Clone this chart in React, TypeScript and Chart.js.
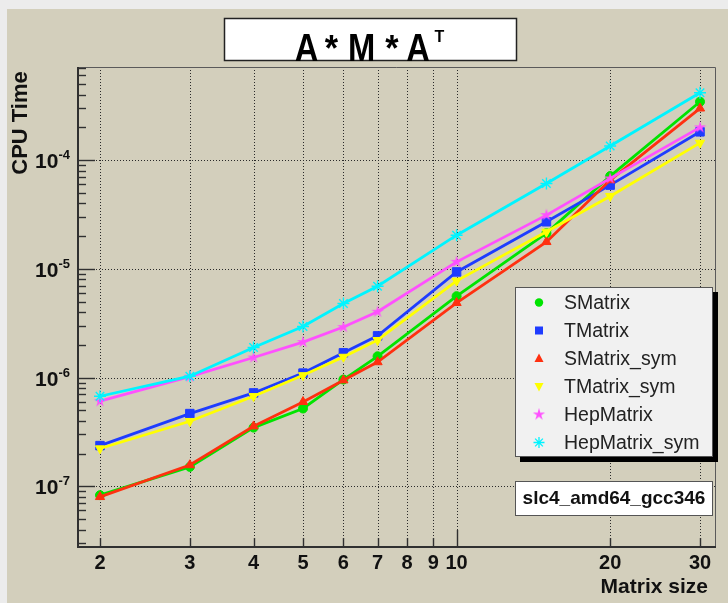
import React, { useEffect, useRef } from 'react';
import { Chart, registerables } from 'chart.js';

Chart.register(...registerables);

const MATRIX_SIZES = [2, 3, 4, 5, 6, 7, 10, 15, 20, 30];
const SMATRIX = [8.3e-8, 1.51e-7, 3.47e-7, 5.2e-7, 9.6e-7, 1.57e-6, 5.61e-6, 2.13e-5, 7.13e-5, 3.44e-4];
const TMATRIX = [2.37e-7, 4.67e-7, 7.23e-7, 1.1e-6, 1.69e-6, 2.42e-6, 9.37e-6, 2.71e-5, 5.89e-5, 1.82e-4];
const SMATRIX_SYM = [8.0e-8, 1.57e-7, 3.57e-7, 5.98e-7, 9.46e-7, 1.39e-6, 4.87e-6, 1.77e-5, 6.55e-5, 2.99e-4];
const TMATRIX_SYM = [2.23e-7, 3.97e-7, 6.74e-7, 1.05e-6, 1.55e-6, 2.21e-6, 7.76e-6, 2.19e-5, 4.66e-5, 1.44e-4];
const HEPMATRIX = [6.07e-7, 1.02e-6, 1.53e-6, 2.12e-6, 2.92e-6, 4.03e-6, 1.16e-5, 3.12e-5, 6.79e-5, 2.0e-4];
const HEPMATRIX_SYM = [6.74e-7, 1.03e-6, 1.89e-6, 2.95e-6, 4.81e-6, 6.93e-6, 2.04e-5, 6.1e-5, 1.35e-4, 4.16e-4];

const SERIES_NAMES = ['SMatrix', 'TMatrix', 'SMatrix_sym', 'TMatrix_sym', 'HepMatrix', 'HepMatrix_sym'];
const SERIES_VALUES = [SMATRIX, TMATRIX, SMATRIX_SYM, TMATRIX_SYM, HEPMATRIX, HEPMATRIX_SYM];
const SERIES_COLORS = ['#00e400', '#1e3cff', '#ff3010', '#ffff00', '#ff50ff', '#00f4ff'];
const SERIES_MARKERS = ['circle', 'rect', 'triangle', 'invtriangle', 'fstar', 'asterisk'];

const X_TICKS = [2, 3, 4, 5, 6, 7, 8, 9, 10, 20, 30];
const X_TICK_LABELS = ['2', '3', '4', '5', '6', '7', '8', '9', '10', '20', '30'];
const Y_DECADE_EXPONENTS = [-7, -6, -5, -4];

const TITLE = 'A * M * A';
const X_TITLE = 'Matrix size';
const Y_TITLE = 'CPU Time';
const INFO_TEXT = 'slc4_amd64_gcc346';

const FONT = '"Liberation Sans", Arial, Helvetica, sans-serif';

function makeStarCanvas(color: string) {
  const c = document.createElement('canvas');
  c.width = 14;
  c.height = 14;
  const g = c.getContext('2d')!;
  g.fillStyle = color;
  g.beginPath();
  for (let i = 0; i < 10; i++) {
    const r = i % 2 === 0 ? 6.5 : 2.3;
    const a = -Math.PI / 2 + (i * Math.PI) / 5;
    const px = 7 + r * Math.cos(a);
    const py = 7 + r * Math.sin(a);
    if (i === 0) g.moveTo(px, py);
    else g.lineTo(px, py);
  }
  g.closePath();
  g.fill();
  return c;
}

function drawMarker(ctx: CanvasRenderingContext2D, kind: string, x: number, y: number, color: string, star: HTMLCanvasElement) {
  ctx.save();
  ctx.fillStyle = color;
  ctx.strokeStyle = color;
  ctx.beginPath();
  if (kind === 'circle') {
    ctx.arc(x, y, 4.2, 0, Math.PI * 2);
    ctx.fill();
  } else if (kind === 'rect') {
    ctx.fillRect(x - 4, y - 4, 8, 8);
  } else if (kind === 'triangle') {
    ctx.moveTo(x, y - 5);
    ctx.lineTo(x + 4.5, y + 3.5);
    ctx.lineTo(x - 4.5, y + 3.5);
    ctx.closePath();
    ctx.fill();
  } else if (kind === 'invtriangle') {
    ctx.moveTo(x, y + 5);
    ctx.lineTo(x + 4.5, y - 3.5);
    ctx.lineTo(x - 4.5, y - 3.5);
    ctx.closePath();
    ctx.fill();
  } else if (kind === 'fstar') {
    ctx.drawImage(star, x - 7, y - 7);
  } else {
    ctx.lineWidth = 1.3;
    const r = 5.5;
    for (let i = 0; i < 4; i++) {
      const a = (i * Math.PI) / 4;
      ctx.moveTo(x - r * Math.cos(a), y - r * Math.sin(a));
      ctx.lineTo(x + r * Math.cos(a), y + r * Math.sin(a));
    }
    ctx.stroke();
  }
  ctx.restore();
}

export default function App() {
  const ref = useRef<HTMLCanvasElement | null>(null);

  useEffect(() => {
    const canvas = ref.current;
    if (!canvas) return;
    const star = makeStarCanvas(SERIES_COLORS[4]);

    const pointStyleFor = (kind: string): any => {
      if (kind === 'circle') return 'circle';
      if (kind === 'rect') return 'rect';
      if (kind === 'triangle') return 'triangle';
      if (kind === 'invtriangle') return 'triangle';
      if (kind === 'fstar') return star;
      return 'star';
    };

    const datasets = SERIES_NAMES.map((name, i) => ({
      label: name,
      data: MATRIX_SIZES.map((x, j) => ({ x, y: SERIES_VALUES[i][j] })),
      borderColor: SERIES_COLORS[i],
      backgroundColor: SERIES_COLORS[i],
      borderWidth: 2.8,
      pointStyle: pointStyleFor(SERIES_MARKERS[i]),
      pointRotation: SERIES_MARKERS[i] === 'invtriangle' ? 180 : 0,
      pointRadius: SERIES_MARKERS[i] === 'rect' ? 6 : SERIES_MARKERS[i] === 'circle' ? 4.5 : SERIES_MARKERS[i] === 'asterisk' ? 6 : 5.3,
      pointBorderWidth: SERIES_MARKERS[i] === 'asterisk' ? 1.4 : 1,
      pointBorderColor: SERIES_COLORS[i],
      pointBackgroundColor: SERIES_COLORS[i],
      tension: 0,
      fill: false,
      order: SERIES_NAMES.length - i,
    }));

    const background = {
      id: 'rootBackground',
      beforeDraw(chart: any) {
        const ctx = chart.ctx as CanvasRenderingContext2D;
        ctx.save();
        ctx.fillStyle = '#ececec';
        ctx.fillRect(0, 0, chart.width, chart.height);
        ctx.fillStyle = '#d3cfbc';
        ctx.fillRect(7, 9, chart.width - 7, chart.height - 9);
        ctx.restore();
      },
    };

    const grid = {
      id: 'rootGrid',
      beforeDatasetsDraw(chart: any) {
        const ctx = chart.ctx as CanvasRenderingContext2D;
        const { left, right, top, bottom } = chart.chartArea;
        const xs = chart.scales.x;
        const ys = chart.scales.y;
        ctx.save();
        ctx.strokeStyle = '#2a2a2a';
        ctx.lineWidth = 1;
        ctx.setLineDash([1, 2]);
        X_TICKS.forEach((v) => {
          const px = Math.round(xs.getPixelForValue(v)) + 0.5;
          ctx.beginPath();
          ctx.moveTo(px, top);
          ctx.lineTo(px, bottom);
          ctx.stroke();
        });
        Y_DECADE_EXPONENTS.forEach((e) => {
          const py = Math.round(ys.getPixelForValue(Math.pow(10, e))) + 0.5;
          ctx.beginPath();
          ctx.moveTo(left, py);
          ctx.lineTo(right, py);
          ctx.stroke();
        });
        ctx.restore();
      },
    };

    const overlay = {
      id: 'rootOverlay',
      afterDraw(chart: any) {
        const ctx = chart.ctx as CanvasRenderingContext2D;
        const { left, right, top, bottom } = chart.chartArea;
        const xs = chart.scales.x;
        const ys = chart.scales.y;
        ctx.save();
        ctx.setLineDash([]);

        // frame
        ctx.strokeStyle = '#5a5a5a';
        ctx.lineWidth = 1;
        ctx.beginPath();
        ctx.moveTo(left, top + 0.5);
        ctx.lineTo(right + 0.5, top + 0.5);
        ctx.lineTo(right + 0.5, bottom);
        ctx.stroke();

        ctx.strokeStyle = '#303030';
        ctx.lineWidth = 2;
        ctx.beginPath();
        ctx.moveTo(left, top);
        ctx.lineTo(left, bottom);
        ctx.lineTo(right + 1, bottom);
        ctx.stroke();

        // y ticks
        ctx.lineWidth = 1.4;
        for (let e = -9; e <= -3; e++) {
          for (let m = 1; m <= 9; m++) {
            const v = m * Math.pow(10, e);
            if (v < ys.min || v > ys.max) continue;
            const py = Math.round(ys.getPixelForValue(v)) + 0.5;
            const len = m === 1 ? 17 : 8;
            ctx.beginPath();
            ctx.moveTo(left, py);
            ctx.lineTo(left + len, py);
            ctx.stroke();
          }
        }
        // x ticks
        X_TICKS.forEach((v) => {
          const px = Math.round(xs.getPixelForValue(v)) + 0.5;
          const len = v === 10 ? 17 : 9;
          ctx.beginPath();
          ctx.moveTo(px, bottom);
          ctx.lineTo(px, bottom - len);
          ctx.stroke();
        });

        // x labels
        ctx.fillStyle = '#111';
        ctx.font = `bold 20px ${FONT}`;
        ctx.textAlign = 'center';
        ctx.textBaseline = 'middle';
        X_TICKS.forEach((v, i) => {
          ctx.fillText(X_TICK_LABELS[i], xs.getPixelForValue(v), bottom + 16);
        });

        // y labels 10^e
        Y_DECADE_EXPONENTS.forEach((e) => {
          const py = ys.getPixelForValue(Math.pow(10, e));
          const sup = String(e);
          ctx.font = `bold 13px ${FONT}`;
          const supW = ctx.measureText(sup).width;
          ctx.textAlign = 'right';
          ctx.textBaseline = 'alphabetic';
          ctx.fillText(sup, 70, py - 1);
          ctx.font = `bold 21px ${FONT}`;
          ctx.fillText('10', 70 - supW, py + 8);
        });

        // axis titles
        ctx.font = `bold 21px ${FONT}`;
        ctx.textAlign = 'right';
        ctx.textBaseline = 'middle';
        ctx.fillText(X_TITLE, 708, 587);
        ctx.save();
        ctx.translate(21, 123);
        ctx.rotate(-Math.PI / 2);
        ctx.textAlign = 'center';
        ctx.font = `bold 22px ${FONT}`;
        ctx.fillText(Y_TITLE, 0, 0);
        ctx.restore();

        // title box
        ctx.fillStyle = '#ffffff';
        ctx.fillRect(224, 18, 293, 43);
        ctx.strokeStyle = '#222';
        ctx.lineWidth = 1.5;
        ctx.strokeRect(224.5, 18.5, 292, 42);
        ctx.fillStyle = '#000';
        ctx.font = `bold 38px ${FONT}`;
        ctx.textAlign = 'center';
        ctx.textBaseline = 'alphabetic';
        const parts = TITLE.split(' ');
        const centers = [306.5, 331.5, 361.5, 392, 418];
        parts.forEach((p, i) => {
          ctx.save();
          ctx.translate(centers[i], 61);
          ctx.scale(p === '*' ? 0.9 : 0.86, p === '*' ? 0.95 : 1);
          ctx.fillText(p, 0, 0);
          ctx.restore();
        });
        ctx.font = `bold 16px ${FONT}`;
        ctx.fillText('T', 439.5, 42);

        // legend
        const lx = 515, ly = 287, lw = 198, lh = 170;
        ctx.fillStyle = '#000';
        ctx.fillRect(lx + 5, ly + 5, lw, lh);
        ctx.fillStyle = '#f1f1f1';
        ctx.fillRect(lx, ly, lw, lh);
        ctx.strokeStyle = '#555';
        ctx.lineWidth = 1;
        ctx.strokeRect(lx + 0.5, ly + 0.5, lw - 1, lh - 1);
        ctx.font = `19.5px ${FONT}`;
        ctx.textAlign = 'left';
        ctx.textBaseline = 'middle';
        SERIES_NAMES.forEach((name, i) => {
          const cy = 302.5 + i * 28;
          drawMarker(ctx, SERIES_MARKERS[i], 539, cy, SERIES_COLORS[i], star);
          ctx.fillStyle = '#222';
          ctx.fillText(name, 564, cy + 1);
        });

        // info box
        ctx.fillStyle = '#ffffff';
        ctx.fillRect(515, 481, 198, 35);
        ctx.strokeStyle = '#555';
        ctx.strokeRect(515.5, 481.5, 197, 34);
        ctx.fillStyle = '#111';
        ctx.font = `bold 19px ${FONT}`;
        ctx.textAlign = 'center';
        ctx.textBaseline = 'middle';
        ctx.fillText(INFO_TEXT, 614, 499);

        ctx.restore();
      },
    };

    const chart = new Chart(canvas, {
      type: 'line',
      data: { datasets: datasets as any },
      options: {
        animation: false,
        responsive: false,
        devicePixelRatio: 1,
        layout: { padding: { left: 78, top: 67, right: 13, bottom: 56 } },
        plugins: { legend: { display: false }, tooltip: { enabled: false }, title: { display: false } },
        scales: {
          x: { type: 'logarithmic', min: 1.811, max: 32.1, display: false },
          y: { type: 'logarithmic', min: 2.77e-8, max: 7.18e-4, display: false },
        },
      },
      plugins: [background, grid, overlay],
    });
    return () => chart.destroy();
  }, []);

  return (
    <div style={{ position: 'absolute', left: 0, top: 0, width: 728, height: 603 }}>
      <canvas ref={ref} width={728} height={603} style={{ display: 'block' }} />
    </div>
  );
}
